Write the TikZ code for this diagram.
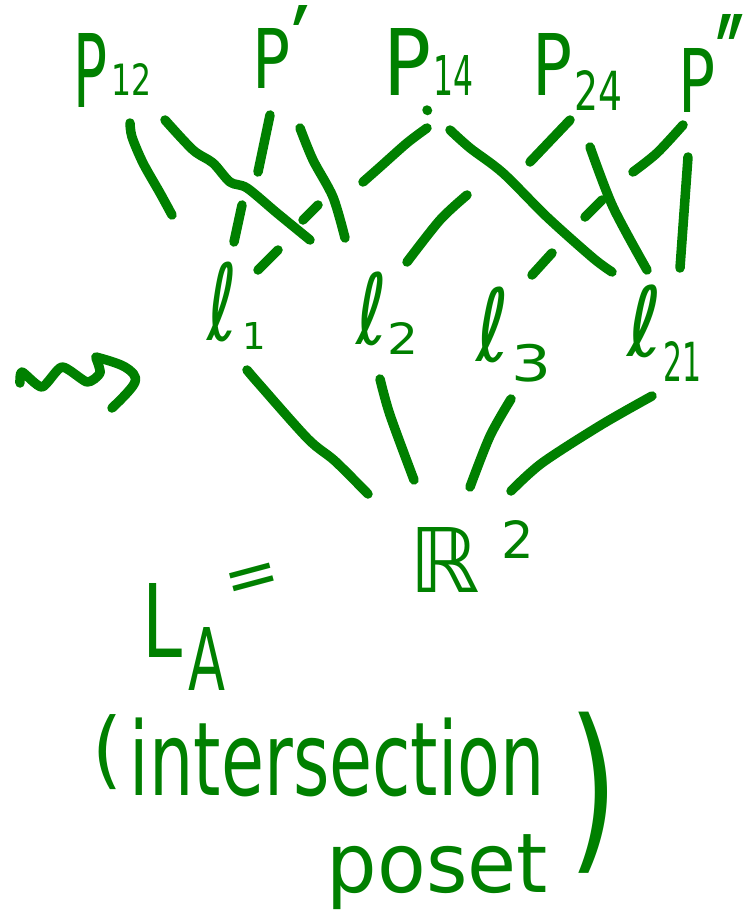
\documentclass[tikz,border=0pt]{standalone}
\usepackage{fontspec}
\usepackage{graphicx}
\setmainfont{DejaVu Sans}
\definecolor{ink}{RGB}{0,128,0}
\newcommand{\hfit}[2]{\resizebox*{!}{#1pt}{#2}}
\newcommand{\whfit}[3]{\resizebox*{#1pt}{#2pt}{#3}}
\tikzset{
  inkline/.style={draw=ink, line width=9.5pt, line cap=round, line join=round},
  lbl/.style={text=ink, inner sep=0pt, outer sep=0pt, anchor=center},
  lblb/.style={text=ink, inner sep=0pt, outer sep=0pt, anchor=base west},
  lblnw/.style={text=ink, inner sep=0pt, outer sep=0pt, anchor=north west, font=\bfseries},
}
\begin{document}
\begin{tikzpicture}[x=1pt, y=-1pt]
\useasboundingbox (0,0) rectangle (755,913);
% ---------- top row ----------
\node[lblb] (P12) at (73,107) {\whfit{34}{74}{P}\hspace{4pt}\raisebox{12pt}{\whfit{40}{32}{12}}};
\node[lblb] (Pp) at (252,88) {\whfit{38}{60}{P}};
\node[lblnw] (Ppm) at (292,5) {\whfit{17}{80}{′}};
\node[lblb] (P14) at (383,95) {\whfit{48}{67}{P}\hspace{2pt}\whfit{40}{40}{14}};
\node[lblb] (P24) at (532,95) {\whfit{40}{62}{P}\hspace{2pt}\raisebox{-15pt}{\whfit{48}{40}{24}}};
\node[lblb] (Ppp) at (678,112) {\whfit{37}{64}{P}};
\node[lblnw] (Pppm) at (716,14) {\whfit{28}{100}{″}};
% ---------- middle row ----------
\node[lbl] (l1) at (222,302) {\whfit{30}{80}{ℓ}};
\node[lbl] (l1s) at (254,336) {\hfit{27}{1}};
\node[lbl] (l2) at (371.5,309) {\whfit{31}{74}{ℓ}};
\node[lbl] (l2s) at (402.5,338) {\whfit{31}{32}{2}};
\node[lbl] (l3) at (493.5,325) {\whfit{33}{76}{ℓ}};
\node[lbl] (l3s) at (532,363) {\whfit{40}{38}{3}};
\node[lbl] (l21) at (645.5,321.5) {\whfit{35}{73}{ℓ}};
\node[lbl] (l21s) at (682,361) {\whfit{38}{40}{21}};
% ---------- bottom ----------
\node[lbl] (R) at (445,559.5) {\hfit{65}{ℝ}};
\node[lbl] (Rs) at (517.5,539) {\hfit{38}{2}};
\node[lblb] (LA) at (142,657) {\whfit{40}{74}{L}\hspace{6pt}\raisebox{-33pt}{\whfit{37}{63}{A}}\hspace{-2pt}\raisebox{53pt}{\rotatebox{15}{\fontsize{66}{66}\selectfont =}}};
\node[lbl] (lp) at (108,752.5) {\whfit{30}{75}{(}};
\node[lbl] (w1) at (337.5,757.5) {\whfit{415}{79}{intersection}};
\node[lbl] (w2) at (437.5,872.5) {\whfit{221}{75}{poset}};
\node[lbl] (rp) at (594,792.5) {\whfit{50}{161}{)}};
% ---------- connectors P -> l ----------
\draw[inkline] plot[smooth] coordinates {(130,123) (132,137) (143,163) (160,193) (172,215)};
\draw[inkline] plot[smooth] coordinates {(165,120) (193,150) (213,163) (230,182) (247,188) (277,213) (310,240)};
\draw[inkline] (270,115) -- (258,172);
\draw[inkline] (242,205) -- (234,242);
\draw[inkline] plot[smooth] coordinates {(300,128) (313,160) (333,197) (345,238)};
\draw[inkline] (427,110) -- (427.5,110.5);
\draw[inkline] plot[smooth] coordinates {(427,128) (407,143) (380,167) (363,182)};
\draw[inkline] (318,205) -- (303,220);
\draw[inkline] (278,250) -- (258,270);
\draw[inkline] plot[smooth] coordinates {(450,130) (470,148) (503,173) (547,217) (593,258) (612,272)};
\draw[inkline] (570,120) -- (530,162);
\draw[inkline] plot[smooth] coordinates {(467,195) (440,220) (407,262)};
\draw[inkline] plot[smooth] coordinates {(590,147) (613,207) (647,270)};
\draw[inkline] plot[smooth] coordinates {(683,125) (657,153) (633,172)};
\draw[inkline] (602,200) -- (585,217);
\draw[inkline] (552,253) -- (532,275);
\draw[inkline] (688,157) -- (680,268);
% ---------- connectors l -> R2 ----------
\draw[inkline] plot[smooth] coordinates {(247,370) (259,384) (308,439) (335,461) (368,494)};
\draw[inkline] plot[smooth] coordinates {(380,379) (390,415) (414,480)};
\draw[inkline] plot[smooth] coordinates {(511,399) (490,436) (470,487)};
\draw[inkline] plot[smooth] coordinates {(652,396) (601,425) (542,463) (511,491)};
% ---------- squiggle arrow ----------
\draw[inkline] plot[smooth, tension=0.4] coordinates {(20,383) (22,372) (42,387) (62,367) (87,382) (100,373) (96,358)};
\draw[inkline] plot[smooth, tension=0.6] coordinates {(96,357) (125,367) (135,382) (112,408)};
\end{tikzpicture}
\end{document}
